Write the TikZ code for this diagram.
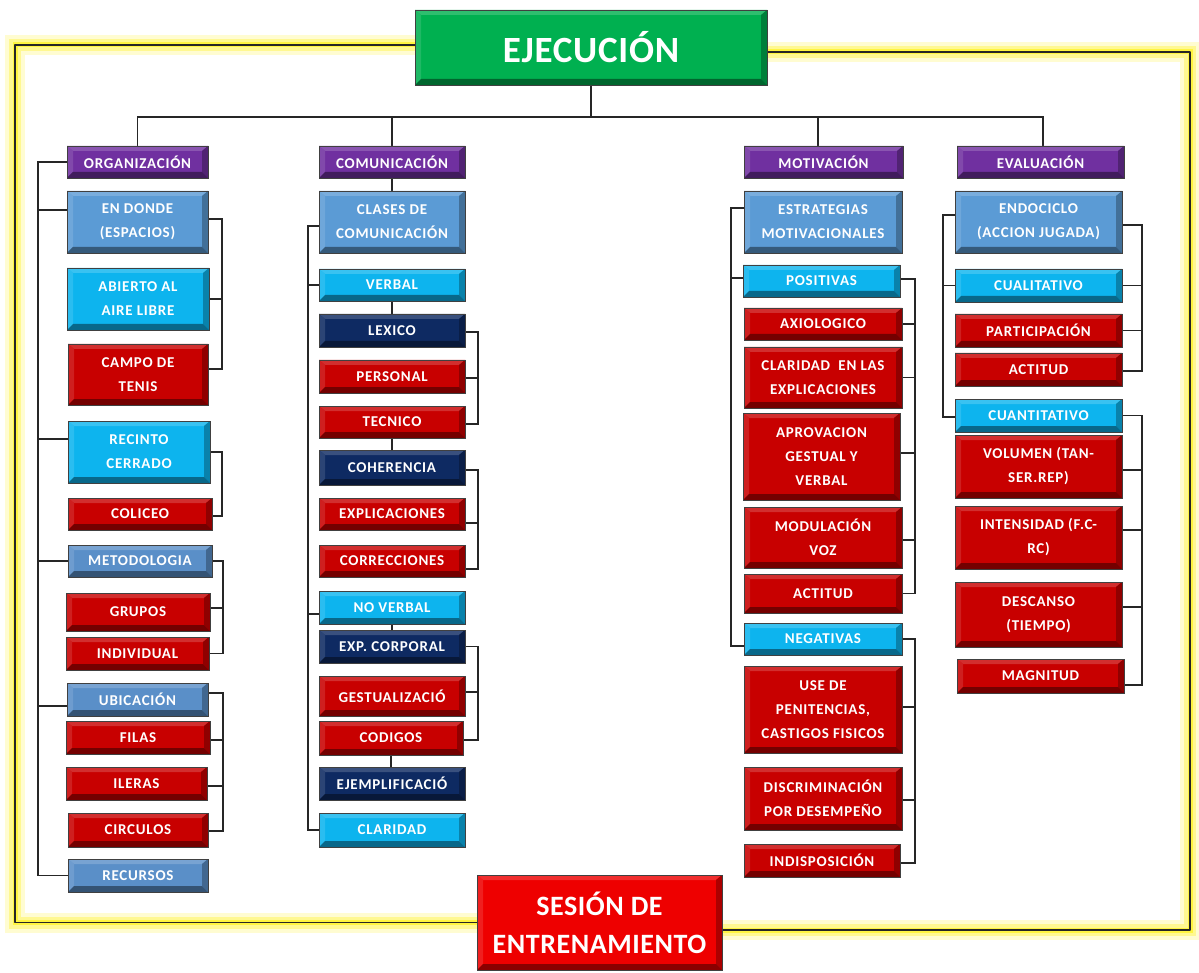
\documentclass[tikz,border=0pt]{standalone}
\usepackage{fontspec}
\newfontfamily\lab[LetterSpace=5]{Carlito}
\newfontfamily\titf[LetterSpace=2]{Carlito}
\usetikzlibrary{backgrounds}
\definecolor{cpurple}{HTML}{7030A0}
\definecolor{csteel}{HTML}{5B9BD5}
\definecolor{csteelb}{HTML}{5A8FC8}
\definecolor{ccyan}{HTML}{0DB4EE}
\definecolor{cred}{HTML}{C80000}
\definecolor{cnavy}{HTML}{0E2A62}
\definecolor{cgreen}{HTML}{00B050}
\definecolor{cbright}{HTML}{EE0000}
\tikzset{
  box/.style={draw=black!75, line width=0.9pt, fill=#1, outer sep=0pt, inner sep=0pt,
    text=white, align=center, font={\lab\bfseries\fontsize{15}{24}\selectfont},
    path picture={
      \fill[#1!82!white] (path picture bounding box.north west) -- (path picture bounding box.north east)
        -- ([shift={(-6pt,-5pt)}]path picture bounding box.north east) -- ([shift={(6pt,-5pt)}]path picture bounding box.north west) -- cycle;
      \fill[#1!88!white] (path picture bounding box.north west) -- (path picture bounding box.south west)
        -- ([shift={(6pt,6pt)}]path picture bounding box.south west) -- ([shift={(6pt,-5pt)}]path picture bounding box.north west) -- cycle;
      \fill[#1!72!black] (path picture bounding box.north east) -- (path picture bounding box.south east)
        -- ([shift={(-6pt,6pt)}]path picture bounding box.south east) -- ([shift={(-6pt,-5pt)}]path picture bounding box.north east) -- cycle;
      \fill[#1!58!black] (path picture bounding box.south west) -- (path picture bounding box.south east)
        -- ([shift={(-6pt,6pt)}]path picture bounding box.south east) -- ([shift={(6pt,6pt)}]path picture bounding box.south west) -- cycle;
    }},
  conn/.style={draw=black!85, line width=1.1pt},
  glow/.style={preaction={draw=yellow, draw opacity=0.18, line width=20pt},
    preaction={draw=yellow, draw opacity=0.3, line width=12pt},
    preaction={draw=yellow, draw opacity=0.55, line width=5pt},
    draw=black!85, line width=1.3pt}
}
\newcommand\bx[7]{\node[box=#6, minimum width={#4-#2}, minimum height={#5-#3}] (#1) at ({(#2+#4)/2},{(#3+#5)/2}) {#7};}
\begin{document}
\begin{tikzpicture}[x=1pt,y=-1pt]
\useasboundingbox (0,0) rectangle (1199,973);
% titles
\node[box=cgreen, minimum width=352, minimum height=75, font={\titf\bfseries\fontsize{37}{40}\selectfont}] (title) at (591,47.5) {EJECUCIÓN};
\node[box=cbright, minimum width=245, minimum height=95, font={\titf\bfseries\fontsize{28}{38}\selectfont}] (sesion) at (599.5,922.5) {SESIÓN DE\\ENTRENAMIENTO};
% level 1
\bx{org}{67}{146}{208}{178}{cpurple}{ORGANIZACIÓN}
\bx{com}{319}{146}{465}{178}{cpurple}{COMUNICACIÓN}
\bx{mot}{744}{146}{903}{178}{cpurple}{MOTIVACIÓN}
\bx{eva}{957}{146}{1124}{178}{cpurple}{EVALUACIÓN}
% organizacion
\bx{endonde}{67}{191}{208}{253}{csteel}{EN DONDE\\(ESPACIOS)}
\bx{abierto}{67}{268}{209}{330}{ccyan}{ABIERTO AL\\AIRE LIBRE}
\bx{campo}{68}{344}{208}{405}{cred}{CAMPO DE\\TENIS}
\bx{recinto}{68}{421}{210}{483}{ccyan}{RECINTO\\CERRADO}
\bx{coliceo}{68}{498}{212}{530}{cred}{COLICEO}
\bx{metodo}{68}{545}{212}{577}{csteelb}{METODOLOGIA}
\bx{grupos}{66}{593}{210}{631}{cred}{GRUPOS}
\bx{individual}{66}{637}{209}{670}{cred}{INDIVIDUAL}
\bx{ubicacion}{67}{683}{208}{716}{csteelb}{UBICACIÓN}
\bx{filas}{66}{721}{210}{754}{cred}{FILAS}
\bx{ileras}{66}{767}{207}{800}{cred}{ILERAS}
\bx{circulos}{68}{813}{208}{847}{cred}{CIRCULOS}
\bx{recursos}{68}{859}{208}{892}{csteelb}{RECURSOS}
% comunicacion
\bx{clases}{319}{191}{465}{253}{csteel}{CLASES DE\\COMUNICACIÓN}
\bx{verbal}{319}{269}{465}{301}{ccyan}{VERBAL}
\bx{lexico}{319}{314}{465}{347}{cnavy}{LEXICO}
\bx{personal}{319}{360}{465}{393}{cred}{PERSONAL}
\bx{tecnico}{319}{406}{465}{438}{cred}{TECNICO}
\bx{coherencia}{319}{450}{465}{485}{cnavy}{COHERENCIA}
\bx{explic}{319}{498}{465}{530}{cred}{EXPLICACIONES}
\bx{correc}{319}{545}{465}{577}{cred}{CORRECCIONES}
\bx{noverbal}{319}{591}{465}{624}{ccyan}{NO VERBAL}
\bx{expcorp}{319}{630}{465}{663}{cnavy}{EXP. CORPORAL}
\bx{gestual}{319}{676}{465}{716}{cred}{GESTUALIZACIÓ}
\bx{codigos}{319}{721}{463}{755}{cred}{CODIGOS}
\bx{ejempl}{319}{767}{465}{800}{cnavy}{EJEMPLIFICACIÓ}
\bx{claridad}{319}{813}{465}{847}{ccyan}{CLARIDAD}
% motivacion
\bx{estrat}{744}{191}{902}{253}{csteel}{ESTRATEGIAS\\MOTIVACIONALES}
\bx{positivas}{743}{265}{900}{297}{ccyan}{POSITIVAS}
\bx{axio}{744}{308}{902}{340}{cred}{AXIOLOGICO}
\bx{clarexp}{744}{347}{902}{408}{cred}{CLARIDAD~ EN LAS\\EXPLICACIONES}
\bx{aprov}{743}{413}{900}{500}{cred}{APROVACION\\GESTUAL Y\\VERBAL}
\bx{modul}{744}{507}{902}{568}{cred}{MODULACIÓN\\VOZ}
\bx{actitudm}{744}{574}{902}{613}{cred}{ACTITUD}
\bx{negativas}{744}{623}{902}{655}{ccyan}{NEGATIVAS}
\bx{use}{744}{666}{902}{753}{cred}{USE DE\\PENITENCIAS,\\CASTIGOS FISICOS}
\bx{discrim}{744}{767}{902}{830}{cred}{DISCRIMINACIÓN\\POR DESEMPEÑO}
\bx{indisp}{744}{844}{900}{877}{cred}{INDISPOSICIÓN}
% evaluacion
\bx{endo}{955}{191}{1122}{253}{csteel}{ENDOCICLO\\(ACCION JUGADA)}
\bx{cuali}{955}{269}{1122}{302}{ccyan}{CUALITATIVO}
\bx{partic}{955}{314}{1122}{347}{cred}{PARTICIPACIÓN}
\bx{actitude}{955}{353}{1122}{386}{cred}{ACTITUD}
\bx{cuanti}{955}{399}{1122}{432}{ccyan}{CUANTITATIVO}
\bx{volumen}{955}{435}{1122}{498}{cred}{VOLUMEN (TAN-\\SER.REP)}
\bx{intens}{955}{506}{1122}{569}{cred}{INTENSIDAD (F.C-\\RC)}
\bx{descanso}{955}{582}{1122}{647}{cred}{DESCANSO\\(TIEMPO)}
\bx{magnitud}{957}{659}{1124}{693}{cred}{MAGNITUD}

\begin{pgfonlayer}{background}
\fill[white] (0,0) rectangle (1199,973);
% frame
\draw[glow, line join=round] ([yshift=2.5pt]title.west) -- ++(-400,0) |- (sesion.west);
\draw[glow, line join=round] ([yshift=-4.5pt]title.east) -- ++(423,0) |- ([yshift=-7.5pt]sesion.east);
% top bus
\draw[conn] (title.south) -- ++(0,32) -| (org.north);
\draw[conn] (title.south) -- ++(0,32) -| (com.north);
\draw[conn] (title.south) -- ++(0,32) -| ([xshift=-5.5pt]mot.north);
\draw[conn] (title.south) -- ++(0,32) -| ([xshift=2.5pt]eva.north);
% organizacion left
\draw[conn] (org.west) -- ++(-29,0) |- ([yshift=12pt]endonde.west);
\draw[conn] (org.west) -- ++(-29,0) |- ([yshift=13pt]recinto.west);
\draw[conn] (org.west) -- ++(-29,0) |- (metodo.west);
\draw[conn] (org.west) -- ++(-29,0) |- ([yshift=-6.5pt]ubicacion.west);
\draw[conn] (org.west) -- ++(-29,0) |- (recursos.west);
% organizacion right
\draw[conn] ([yshift=3pt]endonde.east) -- ++(14,0) |- (abierto.east);
\draw[conn] ([yshift=3pt]endonde.east) -- ++(14,0) |- ([yshift=5.5pt]campo.east);
\draw[conn] (recinto.east) -- ++(12,0) |- ([yshift=-2pt]coliceo.east);
\draw[conn] (metodo.east) -- ++(11,0) |- ([yshift=4pt]grupos.east);
\draw[conn] (metodo.east) -- ++(11,0) |- (individual.east);
\draw[conn] ([yshift=6.5pt]ubicacion.east) -- ++(15,0) |- ([yshift=-2.5pt]filas.east);
\draw[conn] ([yshift=6.5pt]ubicacion.east) -- ++(15,0) |- ([yshift=-2.5pt]ileras.east);
\draw[conn] ([yshift=6.5pt]ubicacion.east) -- ++(15,0) |- ([yshift=-1pt]circulos.east);
% comunicacion
\draw[conn] (com.south) -- (clases.north);
\draw[conn] ([yshift=-4pt]clases.west) -- ++(-11,0) |- (verbal.west);
\draw[conn] ([yshift=-4pt]clases.west) -- ++(-11,0) |- ([yshift=-6.5pt]noverbal.west);
\draw[conn] ([yshift=-4pt]clases.west) -- ++(-11,0) |- (claridad.west);
\draw[conn] (verbal.south) -- (lexico.north);
\draw[conn] ([yshift=-1.5pt]lexico.east) -- ++(13,0) |- ([yshift=-1.5pt]personal.east);
\draw[conn] ([yshift=-1.5pt]lexico.east) -- ++(13,0) |- ([yshift=-2pt]tecnico.east);
\draw[conn] (tecnico.south) -- (coherencia.north);
\draw[conn] ([yshift=-2.5pt]coherencia.east) -- ++(13,0) |- ([yshift=-9pt]explic.east);
\draw[conn] ([yshift=-2.5pt]coherencia.east) -- ++(13,0) |- ([yshift=-8pt]correc.east);
\draw[conn] (noverbal.south) -- (expcorp.north);
\draw[conn] (expcorp.east) -- ++(13,0) |- ([yshift=4pt]gestual.east);
\draw[conn] (expcorp.east) -- ++(13,0) |- ([yshift=-2pt]codigos.east);
\draw[conn] (codigos.south) -- (codigos.south |- ejempl.north);
% motivacion
\draw[conn] ([yshift=14pt]estrat.west) -- ++(-13,0) |- ([yshift=3pt]positivas.west);
\draw[conn] ([yshift=14pt]estrat.west) -- ++(-13,0) |- ([yshift=-7pt]negativas.west);
\draw[conn] ([yshift=2pt]positivas.east) -- ++(15,0) |- (axio.east);
\draw[conn] ([yshift=2pt]positivas.east) -- ++(15,0) |- (clarexp.east);
\draw[conn] ([yshift=2pt]positivas.east) -- ++(15,0) |- ([yshift=3.5pt]aprov.east);
\draw[conn] ([yshift=2pt]positivas.east) -- ++(15,0) |- ([yshift=-2.5pt]modul.east);
\draw[conn] ([yshift=2pt]positivas.east) -- ++(15,0) |- (actitudm.east);
\draw[conn] (negativas.east) -- ++(13,0) |- ([yshift=2.5pt]use.east);
\draw[conn] (negativas.east) -- ++(13,0) |- ([yshift=-1.5pt]discrim.east);
\draw[conn] (negativas.east) -- ++(13,0) |- ([yshift=-2.5pt]indisp.east);
% evaluacion
\draw[conn] ([yshift=7pt]endo.west) -- ++(-12,0) |- (cuali.west);
\draw[conn] ([yshift=7pt]endo.west) -- ++(-12,0) |- ([yshift=-1.5pt]cuanti.west);
\draw[conn] ([yshift=-3pt]endo.east) -- ++(20,0) |- (cuali.east);
\draw[conn] ([yshift=-3pt]endo.east) -- ++(20,0) |- (partic.east);
\draw[conn] ([yshift=-3pt]endo.east) -- ++(20,0) |- ([yshift=-1.5pt]actitude.east);
\draw[conn] (cuanti.east) -- ++(20,0) |- ([yshift=-3.5pt]volumen.east);
\draw[conn] (cuanti.east) -- ++(20,0) |- ([yshift=7.5pt]intens.east);
\draw[conn] (cuanti.east) -- ++(20,0) |- ([yshift=7.5pt]descanso.east);
\draw[conn] (cuanti.east) -- ++(20,0) |- ([yshift=-9pt]magnitud.east);
\end{pgfonlayer}
\end{tikzpicture}
\end{document}
